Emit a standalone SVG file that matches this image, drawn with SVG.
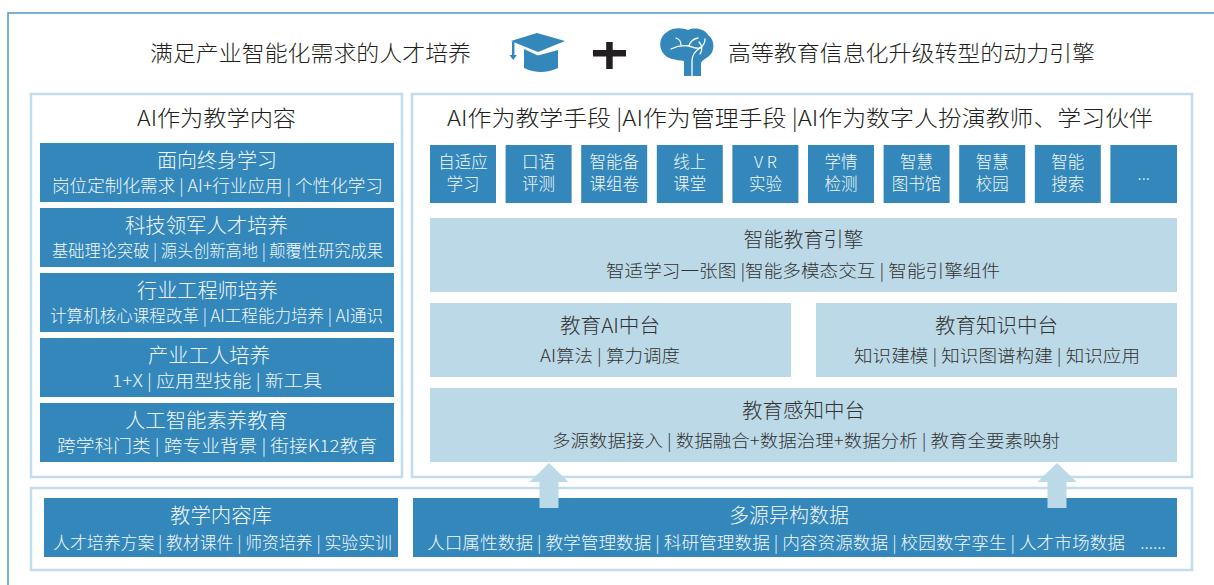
<svg xmlns="http://www.w3.org/2000/svg" width="1214" height="585" viewBox="0 0 1214 585">
<style>
text{font-family:"Noto Sans CJK SC","Noto Sans",sans-serif;font-weight:300;}
.panel{fill:#ffffff;stroke:#c1dcea;stroke-width:2.5;}
.dark{fill:#3387ba;}
.light{fill:#bcd9e7;}
.wt{fill:#f2f8fb;font-size:20px;text-anchor:middle;}
.ws{fill:#f2f8fb;font-size:17px;text-anchor:middle;}
.dt{fill:#333333;font-size:20px;text-anchor:middle;}
.ds{fill:#333333;font-size:17px;text-anchor:middle;}
.sm{fill:#f2f8fb;font-size:16.5px;text-anchor:middle;}
.hd{fill:#231f20;font-size:22px;}
.arrow{fill:#bcd9e7;}
</style>
<rect x="0" y="0" width="1214" height="585" fill="#ffffff"/>
<rect x="8" y="13" width="1230" height="600" fill="none" stroke="#4e96c6" stroke-width="1.5"/>

<g id="header">
<text class="hd" x="150" y="61" font-size="23" textLength="321" lengthAdjust="spacingAndGlyphs">满足产业智能化需求的人才培养</text>
<g id="hat" fill="#3387ba">
<polygon points="511,41 537,33 565,41 538,52"/>
<path d="M524,49 L538,55.5 L558,50 L558,68 Q541,76 524,68 Z"/>
<rect x="512" y="42" width="2.4" height="13"/>
<polygon points="509.5,55 516.8,55 513.2,60"/>
</g>
<g id="plus" fill="#231f20">
<rect x="593" y="50" width="33" height="6.5"/>
<rect x="606.2" y="42" width="6.5" height="27"/>
</g>
<g id="brain">
<path fill="#3387ba" d="M684,76 L684,61 C676,60 667,59 663,53 C658,46 660,36 667,32 C673,27 683,28 688,30 C695,27 705,29 708,35 C714,39 715,48 711,54 C708,58 703,59 701,63 L701,76 Z"/>
<g fill="none" stroke="#ffffff" stroke-width="1.3" stroke-linecap="round">
<path d="M692,76 L692,61 C692,55 695,51 700,48"/>
<path d="M671,49 C677,46 683,45 689,46 C693,47 696,49 700,48"/>
<path d="M681,45 C681,42 679,39 676,38"/>
<path d="M689,46 C690,42 693,39 698,38"/>
<path d="M700,48 C703,46 705,43 705,39"/>
<path d="M699,42 C702,45 703,50 700,54"/>
</g>
</g>
<text class="hd" x="728" y="61" font-size="23" textLength="367" lengthAdjust="spacingAndGlyphs">高等教育信息化升级转型的动力引擎</text>
</g>

<g id="left-panel">
<rect class="panel" x="31" y="94" width="371" height="383"/>
<text class="hd" x="216.5" y="126" text-anchor="middle" textLength="159" lengthAdjust="spacingAndGlyphs">AI作为教学内容</text>
</g>

<g id="lifelong">
<rect class="dark" x="40" y="143" width="354" height="59"/>
<text class="wt" x="217" y="167.6" textLength="120" lengthAdjust="spacingAndGlyphs">面向终身学习</text>
<text class="ws" x="217.5" y="191.5" textLength="331" lengthAdjust="spacingAndGlyphs">岗位定制化需求 | AI+行业应用 | 个性化学习</text>
</g>
<g id="leader">
<rect class="dark" x="40" y="208" width="354" height="59"/>
<text class="wt" x="206.5" y="232.6" textLength="163" lengthAdjust="spacingAndGlyphs">科技领军人才培养</text>
<text class="ws" x="217.5" y="256.5" textLength="331" lengthAdjust="spacingAndGlyphs">基础理论突破 | 源头创新高地 | 颠覆性研究成果</text>
</g>
<g id="engineer">
<rect class="dark" x="40" y="273" width="354" height="59"/>
<text class="wt" x="207.5" y="297.6" textLength="141" lengthAdjust="spacingAndGlyphs">行业工程师培养</text>
<text class="ws" x="216.5" y="321.5" textLength="333" lengthAdjust="spacingAndGlyphs">计算机核心课程改革 | AI工程能力培养 | AI通识</text>
</g>
<g id="worker">
<rect class="dark" x="40" y="338" width="354" height="59"/>
<text class="wt" x="209" y="362.6" textLength="122" lengthAdjust="spacingAndGlyphs">产业工人培养</text>
<text class="ws" x="217" y="386.5" textLength="210" lengthAdjust="spacingAndGlyphs">1+X  | 应用型技能 | 新工具</text>
</g>
<g id="literacy">
<rect class="dark" x="40" y="403" width="354" height="59"/>
<text class="wt" x="206.5" y="427.6" textLength="163" lengthAdjust="spacingAndGlyphs">人工智能素养教育</text>
<text class="ws" x="217" y="451.5" textLength="320" lengthAdjust="spacingAndGlyphs">跨学科门类 | 跨专业背景 | 街接K12教育</text>
</g>

<g id="right-panel">
<rect class="panel" x="412" y="94" width="780" height="383"/>
<text class="hd" x="447" y="126" textLength="706" lengthAdjust="spacingAndGlyphs">AI作为教学手段 |AI作为管理手段 |AI作为数字人扮演教师、学习伙伴</text>
</g>

<g id="tools">
<g id="tool-1"><rect class="dark" x="430" y="145" width="66" height="58"/><text class="sm" x="463" y="168">自适应</text><text class="sm" x="463" y="190">学习</text></g>
<g id="tool-2"><rect class="dark" x="505.6" y="145" width="66" height="58"/><text class="sm" x="538.6" y="168">口语</text><text class="sm" x="538.6" y="190">评测</text></g>
<g id="tool-3"><rect class="dark" x="581.2" y="145" width="66" height="58"/><text class="sm" x="614.2" y="168">智能备</text><text class="sm" x="614.2" y="190">课组卷</text></g>
<g id="tool-4"><rect class="dark" x="656.8" y="145" width="66" height="58"/><text class="sm" x="689.8" y="168">线上</text><text class="sm" x="689.8" y="190">课堂</text></g>
<g id="tool-5"><rect class="dark" x="732.4" y="145" width="66" height="58"/><text class="sm" x="765.4" y="168" xml:space="preserve">V R</text><text class="sm" x="765.4" y="190">实验</text></g>
<g id="tool-6"><rect class="dark" x="808" y="145" width="66" height="58"/><text class="sm" x="841" y="168">学情</text><text class="sm" x="841" y="190">检测</text></g>
<g id="tool-7"><rect class="dark" x="883.6" y="145" width="66" height="58"/><text class="sm" x="916.6" y="168">智慧</text><text class="sm" x="916.6" y="190">图书馆</text></g>
<g id="tool-8"><rect class="dark" x="959.2" y="145" width="66" height="58"/><text class="sm" x="992.2" y="168">智慧</text><text class="sm" x="992.2" y="190">校园</text></g>
<g id="tool-9"><rect class="dark" x="1034.8" y="145" width="66" height="58"/><text class="sm" x="1067.8" y="168">智能</text><text class="sm" x="1067.8" y="190">搜索</text></g>
<g id="tool-10"><rect class="dark" x="1110.4" y="145" width="66.6" height="58"/><text class="sm" x="1143.7" y="180" font-size="13">...</text></g>
</g>

<g id="engine">
<rect class="light" x="430" y="218" width="747" height="74"/>
<text class="dt" x="803.5" y="246.6">智能教育引擎</text>
<text class="ds" x="803" y="276.5" textLength="394" lengthAdjust="spacingAndGlyphs">智适学习一张图 |智能多模态交互 | 智能引擎组件</text>
</g>
<g id="ai-platform">
<rect class="light" x="430" y="303" width="361" height="74"/>
<text class="dt" x="610" y="332.6" textLength="100" lengthAdjust="spacingAndGlyphs">教育AI中台</text>
<text class="ds" x="610" y="361.5" textLength="140" lengthAdjust="spacingAndGlyphs">AI算法 | 算力调度</text>
</g>
<g id="knowledge-platform">
<rect class="light" x="816" y="303" width="361" height="74"/>
<text class="dt" x="996.5" y="332.6" textLength="123" lengthAdjust="spacingAndGlyphs">教育知识中台</text>
<text class="ds" x="997" y="361.5" textLength="286" lengthAdjust="spacingAndGlyphs">知识建模 | 知识图谱构建 | 知识应用</text>
</g>
<g id="perception-platform">
<rect class="light" x="430" y="388" width="747" height="74"/>
<text class="dt" x="803.5" y="417.6" textLength="123" lengthAdjust="spacingAndGlyphs">教育感知中台</text>
<text class="ds" x="806" y="446.5" textLength="508" lengthAdjust="spacingAndGlyphs">多源数据接入 | 数据融合+数据治理+数据分析 | 教育全要素映射</text>
</g>

<g id="bottom-panel">
<rect class="panel" x="31" y="488" width="1161" height="82"/>
</g>
<g id="content-library">
<rect class="dark" x="44" y="498" width="354" height="59"/>
<text class="wt" x="221" y="522.6" textLength="102" lengthAdjust="spacingAndGlyphs">教学内容库</text>
<text class="ws" x="222.5" y="548.5" textLength="339" lengthAdjust="spacingAndGlyphs">人才培养方案 | 教材课件 | 师资培养 | 实验实训</text>
</g>
<g id="multi-source-data">
<rect class="dark" x="413" y="498" width="764" height="59"/>
<text class="wt" x="789" y="522.6" textLength="120" lengthAdjust="spacingAndGlyphs">多源异构数据</text>
<text class="ws" x="776" y="548.5" textLength="698" lengthAdjust="spacingAndGlyphs">人口属性数据 | 教学管理数据 | 科研管理数据 | 内容资源数据 | 校园数字孪生 | 人才市场数据</text>
<text class="ws" x="1153" y="548.5" font-size="13">......</text>
</g>

<g id="connectors">
<polygon class="arrow" points="549,463 568.5,482 558.5,482 558.5,508 539.5,508 539.5,482 529.5,482"/>
<polygon class="arrow" points="1057,463 1076.5,482 1066.5,482 1066.5,508 1047.5,508 1047.5,482 1037.5,482"/>
</g>
</svg>
